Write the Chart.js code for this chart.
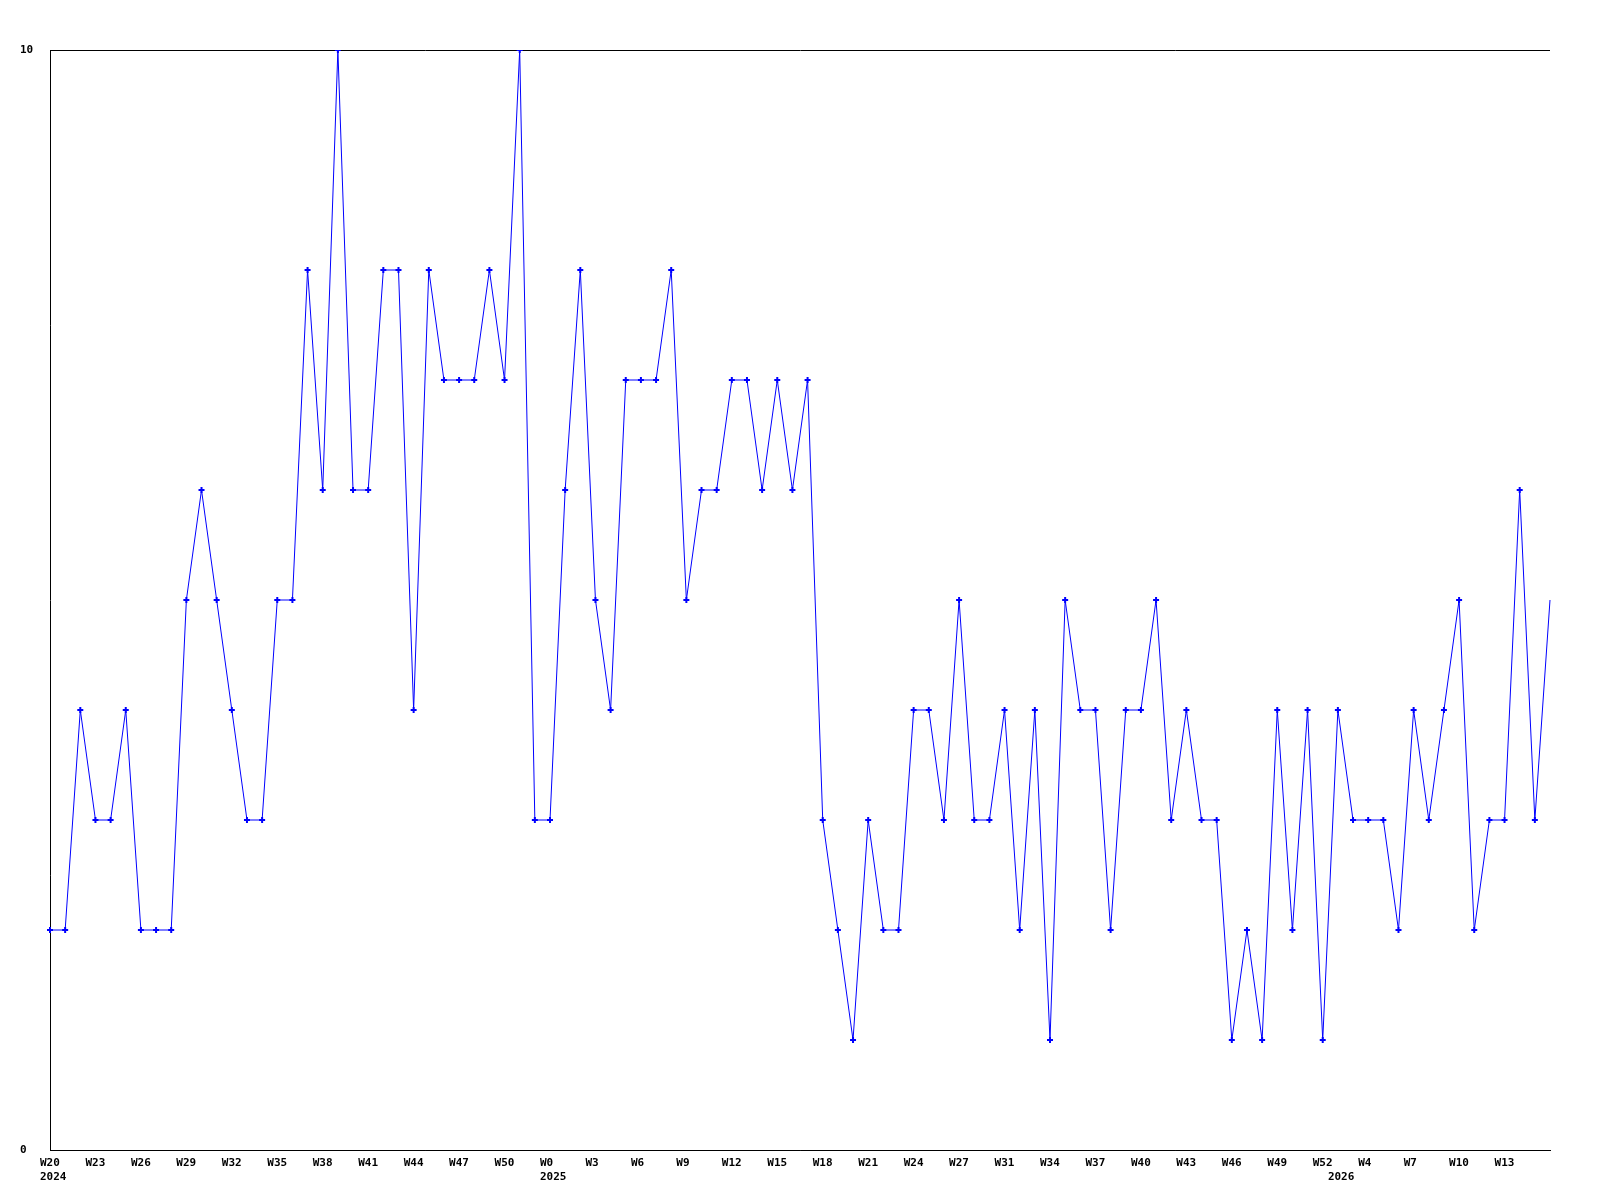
<!DOCTYPE html>
<html>
<head>
<meta charset="utf-8">
<style>
  html, body { margin: 0; padding: 0; background: #ffffff; }
  #wrap { width: 1600px; height: 1200px; }
</style>
<script src="https://cdn.jsdelivr.net/npm/chart.js@4/dist/chart.umd.min.js"></script>
</head>
<body>
<div id="wrap"><canvas id="c" width="1600" height="1200"></canvas></div>
<script>
// Visible week tick labels (one every third point)
const weekLabels = [
  'W20','W23','W26','W29','W32','W35','W38','W41','W44','W47','W50',
  'W0','W3','W6','W9','W12','W15','W18','W21','W24','W27','W31','W34','W37','W40','W43','W46','W49','W52',
  'W4','W7','W10','W13'
];
// Year labels (second line) and the point index where each year starts
const yearLabels = ['2024', '2025', '2026'];
const yearStartIndex = [0, 33, 85];

// Weekly values (100 points)
const values = [
  2, 2, 4, 3, 3, 4, 2, 2, 2, 5,
  6, 5, 4, 3, 3, 5, 5, 8, 6, 10,
  6, 6, 8, 8, 4, 8, 7, 7, 7, 8,
  7, 10, 3, 3, 6, 8, 5, 4, 7, 7,
  7, 8, 5, 6, 6, 7, 7, 6, 7, 6,
  7, 3, 2, 1, 3, 2, 2, 4, 4, 3,
  5, 3, 3, 4, 2, 4, 1, 5, 4, 4,
  2, 4, 4, 5, 3, 4, 3, 3, 1, 2,
  1, 4, 2, 4, 1, 4, 3, 3, 3, 2,
  4, 3, 4, 5, 2, 3, 3, 6, 3, 5
];

const yTicks = [0, 10];

// Build category labels from the arrays above
const categories = values.map((v, i) => {
  const lines = [];
  lines.push(i % 3 === 0 && weekLabels[i / 3] !== undefined ? weekLabels[i / 3] : '');
  const yi = yearStartIndex.indexOf(i);
  if (yi >= 0) lines.push(yearLabels[yi]);
  return lines.length === 1 ? lines[0] : lines;
});

const tickFont = { family: '"DejaVu Sans Mono", "Liberation Mono", monospace', size: 11, weight: 'bold', lineHeight: '14px' };

new Chart(document.getElementById('c'), {
  type: 'line',
  data: {
    labels: categories,
    datasets: [{
      data: values,
      borderColor: '#0000ff',
      backgroundColor: '#0000ff',
      borderWidth: 1,
      pointStyle: 'cross',
      pointRadius: values.map((v, i) => i === values.length - 1 ? 0 : 3),
      pointBorderWidth: 2,
      pointBorderColor: '#0000ff',
      pointHoverRadius: 0,
      tension: 0,
      fill: false
    }]
  },
  options: {
    responsive: false,
    maintainAspectRatio: false,
    devicePixelRatio: 1,
    animation: false,
    events: [],
    layout: { padding: { top: 50, right: 50, left: 20, bottom: 0 } },
    plugins: { legend: { display: false }, tooltip: { enabled: false }, title: { display: false } },
    scales: {
      x: {
        type: 'category',
        offset: false,
        grid: { display: false, drawTicks: false },
        border: { display: true, color: '#000000', width: 1 },
        ticks: {
          autoSkip: false,
          maxRotation: 0,
          minRotation: 0,
          align: 'start',
          labelOffset: -10,
          padding: 6,
          color: '#000000',
          font: tickFont
        },
        afterFit: (scale) => { scale.height = 50; }
      },
      y: {
        min: 0,
        max: 10,
        afterBuildTicks: (scale) => { scale.ticks = yTicks.map(v => ({ value: v })); },
        grid: { display: true, color: '#000000', lineWidth: 1, drawTicks: false },
        border: { display: true, color: '#000000', width: 1 },
        ticks: {
          crossAlign: 'far',
          padding: 0,
          color: '#000000',
          font: tickFont
        },
        afterFit: (scale) => { scale.width = 30; }
      }
    }
  }
});
</script>
</body>
</html>
